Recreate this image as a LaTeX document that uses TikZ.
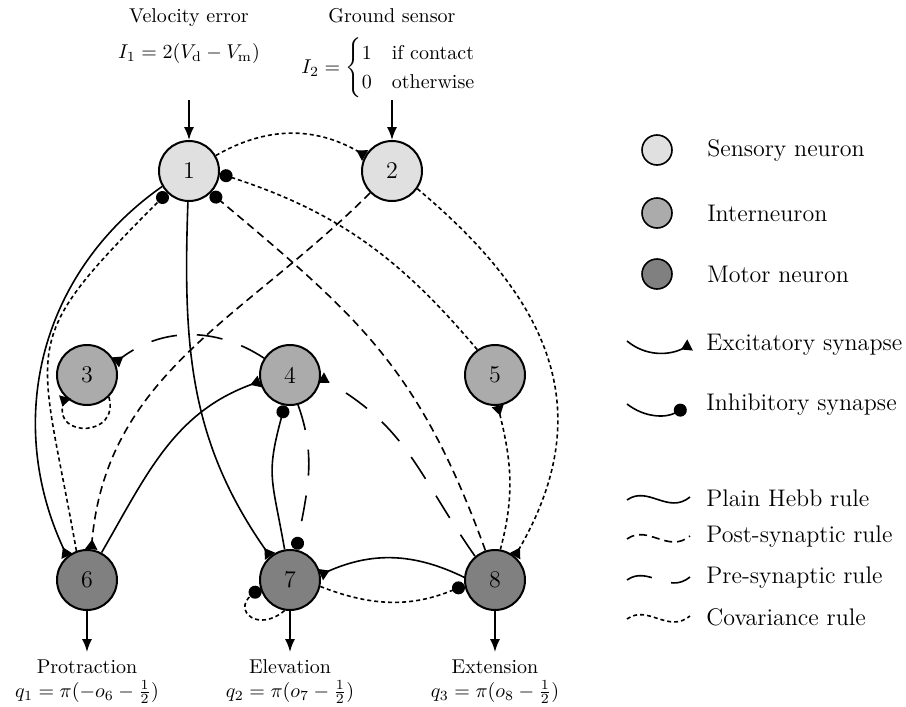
\documentclass[tikz,border=0pt]{standalone}
\usepackage{amsmath}
\usepackage{amssymb}
\usetikzlibrary{arrows.meta, positioning}

\tikzset{
  neuron/.style={circle, draw, line width=1pt, minimum size=30pt, inner sep=0pt, font=\large},
  sensory/.style={neuron, fill=black!12},
  inter/.style={neuron, fill=black!33},
  motor/.style={neuron, fill=black!50},
  excsyn/.style={-{Triangle[reversed, length=5pt, width=6pt]}},
  inhsyn/.style={-{Circle[length=6.5pt]}},
  hebbrule/.style={solid},
  postrule/.style={dash pattern=on 4pt off 2.5pt},
  prerule/.style={dash pattern=on 13pt off 10pt},
  covrule/.style={dash pattern=on 2pt off 1.5pt},
  io/.style={-{Latex[length=6.5pt, width=5pt]}},
  iotext/.style={inner sep=0pt},
  legtext/.style={font=\large, anchor=west},
}

\begin{document}
\begin{tikzpicture}[x=0.5pt, y=0.5pt, line width=0.8pt, node distance=13.5pt]
\useasboundingbox (0,0) rectangle (906,-707);

% neurons
\node[sensory] (n1) at (189,-171) {1};
\node[sensory] (n2) at (392,-171) {2};
\node[inter] (n3) at (87,-375) {3};
\node[inter] (n4) at (290,-375) {4};
\node[inter] (n5) at (495,-375) {5};
\node[motor] (n6) at (87,-580) {6};
\node[motor] (n7) at (290,-580) {7};
\node[motor] (n8) at (495,-580) {8};

% inputs
\node[iotext] (vel) at (189,-18) {Velocity error};
\node[iotext] (i1) at (189,-53) {$I_1 = 2(V_\mathrm{d} - V_\mathrm{m})$};
\node[iotext] (gnd) at (392,-16) {Ground sensor};
\node[iotext] (i2) at (389,-68) {$I_2 = \begin{cases} 1 & \text{if contact}\\ 0 & \text{otherwise} \end{cases}$};
\coordinate (in1) at (189,-100);
\coordinate (in2) at (392,-100);
\draw[io] (in1) -- (n1);
\draw[io] (in2) -- (n2);

% outputs
\coordinate (out6) at (87,-652);
\coordinate (out7) at (290,-652);
\coordinate (out8) at (495,-652);
\draw[io] (n6) -- (out6);
\draw[io] (n7) -- (out7);
\draw[io] (n8) -- (out8);
\node[iotext] (prot) at (87,-667) {Protraction};
\node[iotext] (elev) at (290,-667) {Elevation};
\node[iotext] (ext) at (495,-667) {Extension};
\node[iotext] (q1) at (87,-692) {$q_1 = \pi(-o_6 - \frac{1}{2})$};
\node[iotext] (q2) at (290,-692) {$q_2 = \pi(o_7 - \frac{1}{2})$};
\node[iotext] (q3) at (495,-692) {$q_3 = \pi(o_8 - \frac{1}{2})$};

% plain Hebb
\draw[hebbrule, excsyn] (n1.210) to[out=215, in=115] (n6.130);
\draw[hebbrule, excsyn] (n1.-92) to[out=-92, in=125] (n7.130);
\draw[hebbrule, excsyn] (n6.62) to[out=60, in=200] (n4.192);
\draw[hebbrule, inhsyn] (n7.100) to[out=100, in=255, looseness=1.3] (n4.-100);
\draw[hebbrule, excsyn] (n8.175) to[bend right=25] (n7.10);

% post-synaptic
\draw[postrule, excsyn] (n2.225) to[out=225, in=85] (n6.82);
\draw[postrule, inhsyn] (n8.108) to[out=110, in=-40, looseness=1.1] (n1.-45);

% pre-synaptic
\draw[prerule, excsyn] (n4.147) to[bend right=35] (n3.24);
\draw[prerule, excsyn] (n8.130) to[out=125, in=-30, looseness=1.1] (n4.-5);
\draw[prerule, inhsyn] (n4.-75) to[out=-70, in=80] (n7.78);

% covariance
\draw[covrule, excsyn] (n1.30) to[bend left=30] (n2.150);
\draw[covrule, excsyn] (n2.-35) to[out=-40, in=60, looseness=1.15] (n8.50);
\draw[covrule, inhsyn] (n5.125) to[out=130, in=-18] (n1.-5);
\draw[covrule, inhsyn] (n6.110) to[out=100, in=225, looseness=1.5] (n1.225);
\draw[covrule, excsyn] (n8.80) to[out=75, in=-76] (n5.-85);
\draw[covrule, inhsyn] (n7.-12) to[bend right=22] (n8.190);
\draw[covrule, excsyn] (n3.-45) .. controls +(-75:42) and +(-105:42) .. (n3.-135);
\draw[covrule, inhsyn] (n7.-100) .. controls +(-140:35) and +(220:35) .. (n7.195);

% legend
\node[sensory, minimum size=15pt, line width=0.8pt] (lsen) at (657,-150) {};
\node[inter, minimum size=15pt, line width=0.8pt] (lint) at (657,-213) {};
\node[motor, minimum size=15pt, line width=0.8pt] (lmot) at (657,-274) {};
\node[right=of lsen, font=\large] (tsen) {Sensory neuron};
\node[right=of lint, font=\large] (tint) {Interneuron};
\node[right=of lmot, font=\large] (tmot) {Motor neuron};

\draw[excsyn] (627,-341) .. controls (645,-356) and (668,-356) .. (690,-345);
\node[legtext] (texc) at (699,-345) {Excitatory synapse};
\draw[inhsyn] (627,-404) .. controls (645,-418) and (666,-418) .. (686,-407);
\node[legtext] (tinh) at (699,-405) {Inhibitory synapse};

\draw[hebbrule] (627,-500) .. controls (648,-485) and (668,-515) .. (690,-497);
\node[legtext] (theb) at (699,-498) {Plain Hebb rule};
\draw[postrule] (627,-539) .. controls (648,-524) and (668,-554) .. (690,-536);
\node[legtext] (tpos) at (699,-537) {Post-synaptic rule};
\draw[prerule] (627,-580) .. controls (648,-565) and (668,-595) .. (690,-577);
\node[legtext] (tpre) at (699,-578) {Pre-synaptic rule};
\draw[covrule] (627,-619) .. controls (648,-604) and (668,-634) .. (690,-616);
\node[legtext] (tcov) at (699,-617) {Covariance rule};
\end{tikzpicture}
\end{document}
